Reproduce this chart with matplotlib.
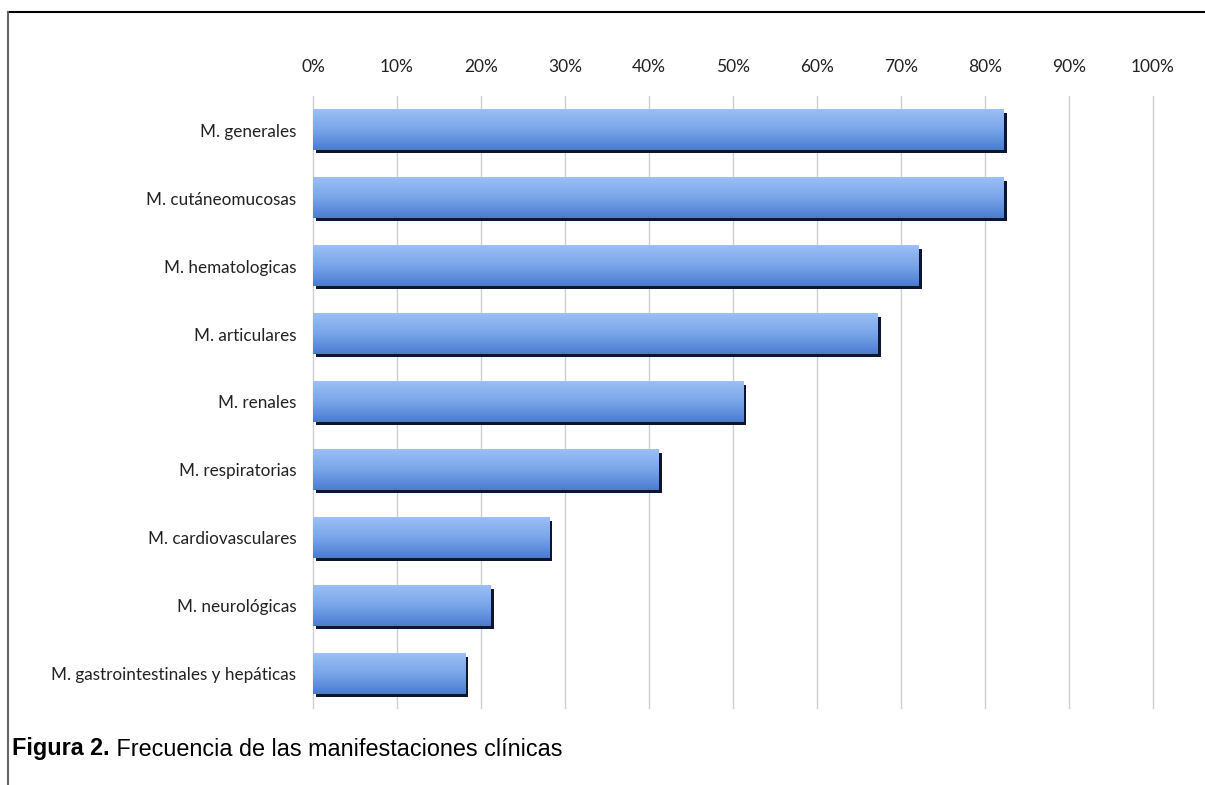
import numpy as np
import matplotlib.pyplot as plt
from matplotlib.colors import LinearSegmentedColormap
from matplotlib.lines import Line2D

categories = ["M. generales", "M. cutáneomucosas", "M. hematologicas", "M. articulares",
              "M. renales", "M. respiratorias", "M. cardiovasculares", "M. neurológicas",
              "M. gastrointestinales y hepáticas"]
values = [82.2, 82.2, 72.1, 67.2, 51.2, 41.1, 28.1, 21.1, 18.1]
ticks = list(range(0, 101, 10))
tick_labels = [f"{t}%" for t in ticks]

fig = plt.figure(figsize=(12.05, 7.85), dpi=100)
ax = fig.add_axes([0.2598, 0.0981, 0.697, 0.7796])

grad_cmap = LinearSegmentedColormap.from_list("bar", ["#9bbff6", "#7aa5ea", "#4a7ccf"])
grad = np.linspace(0, 1, 64).reshape(-1, 1)

h = 0.59
dx, dy = 0.4, 0.05
for i, v in enumerate(values):
    # shadow
    ax.add_patch(plt.Rectangle((dx, i - h / 2 + dy), v, h, color="#0d1530", zorder=2, lw=0))
    ax.imshow(grad, cmap=grad_cmap, aspect="auto", extent=(0, v, i + h / 2, i - h / 2),
              zorder=3, interpolation="bilinear")

ax.set_xlim(0, 100)
ax.set_ylim(len(categories) - 0.5, -0.5)
ax.set_xticks(ticks)
ax.set_xticklabels(tick_labels)
ax.set_yticks(range(len(categories)))
ax.set_yticklabels(categories)
ax.xaxis.tick_top()
ax.tick_params(axis="x", length=0, pad=15, labelsize=12.5, labelcolor="#222222")
ax.tick_params(axis="y", length=0, pad=12, labelsize=12.3, labelcolor="#222222")
for lab in ax.get_xticklabels() + ax.get_yticklabels():
    lab.set_family("Lato")
ax.grid(axis="x", color="#cfcfcf", lw=1, zorder=0)
for gl in ax.get_xgridlines():
    gl.set_clip_on(False)
ax.set_axisbelow(True)
for s in ax.spines.values():
    s.set_visible(False)

# frame lines
fig.add_artist(Line2D([8 / 1205, 1], [1 - 12 / 785, 1 - 12 / 785], color="black", lw=1.5))
fig.add_artist(Line2D([8 / 1205, 8 / 1205], [1 - 12 / 785, 0], color="#666666", lw=1.5))

t = fig.text(12 / 1205, 1 - 749 / 785, "Figura 2.", fontsize=16.8, fontweight="bold",
             family="Liberation Sans", va="center")
fig.canvas.draw()
ax.annotate(" Frecuencia de las manifestaciones clínicas", xy=(1, 0.5), xycoords=t,
            va="center", ha="left", fontsize=16.8, family="Liberation Sans",
            annotation_clip=False)

fig.savefig("out.png", dpi=100)
